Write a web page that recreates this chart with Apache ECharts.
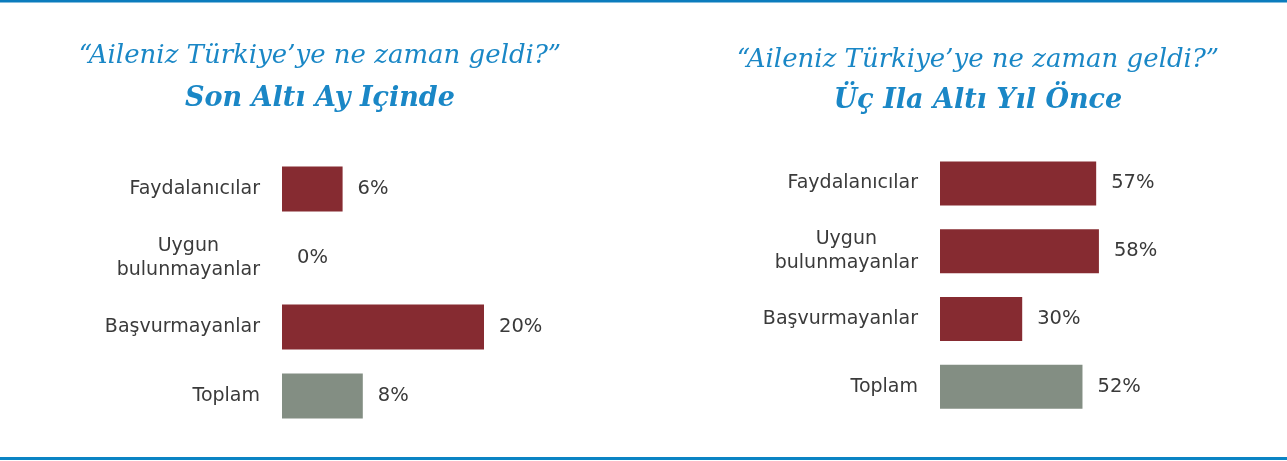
<!DOCTYPE html>
<html>
<head>
<meta charset="utf-8">
<script src="https://cdn.jsdelivr.net/npm/echarts@6/dist/echarts.min.js"></script>
<style>
  html, body { margin: 0; padding: 0; background: #ffffff; }
  #chart { width: 1287px; height: 461px; }
</style>
</head>
<body>
<div id="chart"></div>
<script>
// kategoriler (her iki panelde aynı)
const categories = ["Faydalanıcılar", "Uygun\nbulunmayanlar", "Başvurmayanlar", "Toplam"];
// panel başlıkları
const question = "“Aileniz Türkiye’ye ne zaman geldi?”";
const leftTitle = "Son Altı Ay Içinde";
const rightTitle = "Üç Ila Altı Yıl Önce";
// yüzde değerleri
const leftValues = [6, 0, 20, 8];
const rightValues = [57, 58, 30, 52];

const RED = "#862b31";
const GREY = "#838e83";
const BLUE = "#1a87c6";
const TEXT = "#3a3a3a";

const chart = echarts.init(document.getElementById("chart"));

function toData(values) {
  // son çubuk (Toplam) gri
  return values.map((v, i) => ({
    value: v,
    itemStyle: { color: i === values.length - 1 ? GREY : RED }
  }));
}

function titleItem(text, x, y, bold) {
  return {
    text,
    left: x,
    top: y,
    textAlign: "center",
    padding: 0,
    textStyle: {
      fontFamily: "DejaVu Serif",
      fontStyle: "italic",
      fontWeight: bold ? "bold" : "normal",
      fontSize: bold ? 27 : 26,
      color: BLUE
    }
  };
}

function yAxisFor(idx) {
  return {
    type: "category",
    gridIndex: idx,
    data: categories,
    inverse: true,
    axisLine: { show: false },
    axisTick: { show: false },
    splitLine: { show: false },
    axisLabel: {
      margin: 22,
      color: TEXT,
      fontFamily: "DejaVu Sans",
      fontSize: 19,
      lineHeight: 24,
      formatter: (v) => v.split("\n").map((s) => "{c|" + s + "}").join("\n"),
      rich: {
        c: { align: "center", color: TEXT, fontFamily: "DejaVu Sans", fontSize: 19, lineHeight: 24 }
      }
    }
  };
}

function seriesFor(idx, values, barWidth) {
  return {
    type: "bar",
    xAxisIndex: idx,
    yAxisIndex: idx,
    data: toData(values),
    barWidth,
    silent: true,
    label: {
      show: true,
      position: "right",
      distance: 15,
      formatter: "{c}%",
      color: TEXT,
      fontFamily: "DejaVu Sans",
      fontSize: 19.5
    }
  };
}

const option = {
  backgroundColor: "#ffffff",
  animation: false,
  title: [
    titleItem(question, 320, 43, false),
    titleItem(leftTitle, 320, 85, true),
    titleItem(question, 978, 47, false),
    titleItem(rightTitle, 978, 87, true)
  ],
  graphic: [
    { type: "rect", left: 0, top: 0, shape: { width: 1287, height: 2.5 }, style: { fill: "#0b7cbd" } },
    { type: "rect", left: 0, top: 457, shape: { width: 1287, height: 3 }, style: { fill: "#0b84c4" } }
  ],
  grid: [
    { left: 282, top: 154.5, width: 404, height: 276 },
    { left: 940, top: 149.5, width: 274, height: 271 }
  ],
  xAxis: [
    { type: "value", gridIndex: 0, min: 0, max: 40, show: false },
    { type: "value", gridIndex: 1, min: 0, max: 100, show: false }
  ],
  yAxis: [yAxisFor(0), yAxisFor(1)],
  series: [
    seriesFor(0, leftValues, 45),
    seriesFor(1, rightValues, 44)
  ]
};

chart.setOption(option);
</script>
</body>
</html>
